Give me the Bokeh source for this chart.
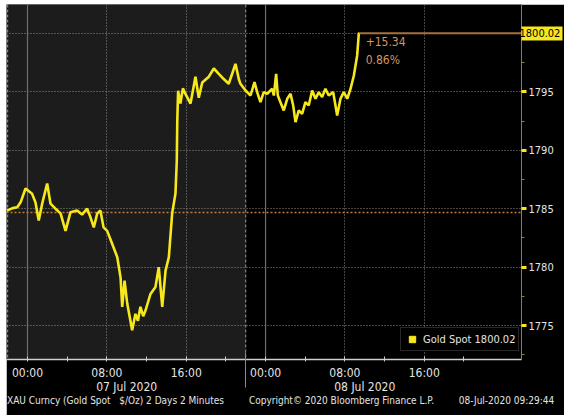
import math
import pandas as pd
from bokeh.plotting import figure
from bokeh.models import (Range1d, FixedTicker, BoxAnnotation, Span, Label, LinearAxis,
                          Legend, LegendItem, ColumnDataSource, CustomJSTickFormatter,
                          PrintfTickFormatter)
from bokeh.embed import file_html
from bokeh.resources import INLINE

# ---------------- data ----------------
times = [
    "2020-07-06 21:57", "2020-07-06 22:30", "2020-07-06 22:58", "2020-07-06 23:20",
    "2020-07-06 23:48",
    "2020-07-07 00:28", "2020-07-07 00:48", "2020-07-07 01:08", "2020-07-07 01:29",
    "2020-07-07 01:59", "2020-07-07 02:19", "2020-07-07 02:49", "2020-07-07 03:20",
    "2020-07-07 03:50", "2020-07-07 04:20", "2020-07-07 05:00", "2020-07-07 05:30",
    "2020-07-07 06:01", "2020-07-07 06:20",
    "2020-07-07 06:41", "2020-07-07 07:02", "2020-07-07 07:21", "2020-07-07 07:40",
    "2020-07-07 08:02", "2020-07-07 08:32", "2020-07-07 09:03", "2020-07-07 09:23",
    "2020-07-07 09:33", "2020-07-07 09:47", "2020-07-07 10:03", "2020-07-07 10:20",
    "2020-07-07 10:33",
    "2020-07-07 10:53", "2020-07-07 11:08", "2020-07-07 11:23", "2020-07-07 11:40",
    "2020-07-07 11:54", "2020-07-07 12:24",
    "2020-07-07 12:54", "2020-07-07 13:14", "2020-07-07 13:35", "2020-07-07 13:55",
    "2020-07-07 14:15", "2020-07-07 14:35", "2020-07-07 14:55", "2020-07-07 15:03",
    "2020-07-07 15:06", "2020-07-07 15:11", "2020-07-07 15:25", "2020-07-07 15:40",
    "2020-07-07 15:56",
    "2020-07-07 16:26", "2020-07-07 16:56", "2020-07-07 17:16", "2020-07-07 17:37",
    "2020-07-07 18:17", "2020-07-07 18:47", "2020-07-07 19:17", "2020-07-07 19:47",
    "2020-07-07 20:17", "2020-07-07 20:38", "2020-07-07 20:58", "2020-07-07 21:18",
    "2020-07-07 21:28", "2020-07-07 21:59", "2020-07-07 22:29", "2020-07-07 22:53",
    "2020-07-07 23:09", "2020-07-07 23:29", "2020-07-07 23:49", "2020-07-08 00:10",
    "2020-07-08 00:40", "2020-07-08 00:50", "2020-07-08 01:04", "2020-07-08 01:14",
    "2020-07-08 01:30", "2020-07-08 01:50", "2020-07-08 02:11", "2020-07-08 02:31",
    "2020-07-08 02:47", "2020-07-08 03:01", "2020-07-08 03:21", "2020-07-08 03:41",
    "2020-07-08 04:01", "2020-07-08 04:21", "2020-07-08 04:42", "2020-07-08 05:02",
    "2020-07-08 05:22", "2020-07-08 05:42", "2020-07-08 06:02", "2020-07-08 06:22",
    "2020-07-08 06:49", "2020-07-08 07:13", "2020-07-08 07:33", "2020-07-08 07:53",
    "2020-07-08 08:14", "2020-07-08 08:34", "2020-07-08 08:54", "2020-07-08 09:14",
    "2020-07-08 09:24", "2020-07-08 09:29",
]
prices = [
    1784.85, 1785.05, 1785.13, 1785.60,
    1786.73,
    1786.27, 1785.56, 1783.99, 1785.44,
    1787.16, 1785.44, 1785.00, 1784.60,
    1783.10, 1784.70, 1784.85, 1784.50,
    1785.00, 1784.30,
    1783.40, 1784.60, 1784.85, 1783.40,
    1783.10, 1782.00, 1780.85, 1779.10,
    1776.60, 1778.85, 1776.90, 1775.60,
    1774.60,
    1776.00, 1775.40, 1776.60, 1775.80,
    1776.30, 1777.70,
    1778.30, 1780.00, 1776.60, 1779.70,
    1780.85, 1784.60, 1786.30, 1789.10,
    1792.55, 1795.10, 1794.00, 1795.30,
    1794.80,
    1794.00, 1796.30, 1794.50, 1795.80,
    1796.30, 1797.00, 1796.55, 1796.10,
    1795.70, 1796.55, 1797.40, 1796.10,
    1795.69, 1795.12, 1794.69, 1795.83,
    1794.98, 1794.12, 1794.98, 1794.84,
    1795.27, 1794.69, 1796.55, 1794.69,
    1794.12, 1793.41, 1794.41, 1794.84,
    1793.84, 1792.41, 1793.41, 1793.12,
    1794.12, 1793.84, 1795.12, 1794.41,
    1794.98, 1794.55, 1795.27, 1794.69,
    1794.98, 1792.98, 1794.41, 1794.98,
    1794.41, 1795.27, 1796.40, 1798.12,
    1800.00, 1800.02,
]
prev_close = 1784.68
y_ticks = [1775, 1780, 1785, 1790, 1795]
y_minor = [1772.5, 1777.5, 1782.5, 1787.5, 1792.5, 1797.5]
y_grid = [1775, 1780, 1785, 1790, 1795, 1800]
day_starts = ["2020-07-07 00:00", "2020-07-08 00:00"]
day_labels = ["07 Jul 2020", "08 Jul 2020"]
day_label_pos = ["2020-07-07 10:00", "2020-07-08 10:00"]
session_start = "2020-07-06 22:00"
session_end = "2020-07-07 22:00"
dotted_x = ["2020-07-07 08:00", "2020-07-07 16:00", "2020-07-08 08:00", "2020-07-08 16:00"]
tick_x = pd.date_range("2020-07-07 00:00", "2020-07-08 20:00", freq="4h").strftime("%Y-%m-%d %H:%M").tolist()
x_start, x_end = "2020-07-06 21:53", "2020-07-09 01:48"
series_name = "Gold Spot"
footer_texts = ["XAU Curncy (Gold Spot \u00a0 $/Oz) 2 Days 2 Minutes",
                "Copyright\u00a9 2020 Bloomberg Finance L.P.",
                "08-Jul-2020 09:29:44"]

# ---------------- layout constants ----------------
W, H = 558, 411
FRAME_W, FRAME_H = 515, 355
footer_px = [115, 341, 506]      # horizontal centres (page px) of the footer parts
FONT = "DejaVu Sans Condensed"
YELLOW = "#f7e81c"
TXT = "#e4e4e4"
ORANGE = "#d8955a"


def ms(s):
    return pd.Timestamp(s).value / 1e6


x0, x1 = ms(x_start), ms(x_end)


def px_to_x(px):
    return x0 + (px - 6) / FRAME_W * (x1 - x0)


xs = [ms(t) for t in times]
src = ColumnDataSource(dict(x=xs, y=prices))
last = prices[-1]
change = last - prev_close
pct = change / prev_close * 100

p = figure(width=W, height=H, output_backend="svg", toolbar_location=None,
           x_axis_type="datetime", y_axis_location="right",
           x_range=Range1d(x0, x1), y_range=Range1d(1772.09, 1802.48),
           min_border_left=0, min_border_top=0, min_border_right=W - FRAME_W,
           min_border_bottom=H - FRAME_H, margin=(4, 0, 0, 6))
p.background_fill_color = "black"
p.border_fill_color = "black"
p.outline_line_color = None

# session shading
p.add_layout(BoxAnnotation(left=ms(session_start), right=ms(session_end),
                           fill_color="#1c1c1c", fill_alpha=1, line_color=None,
                           level="image"))

# grids
p.ygrid.ticker = FixedTicker(ticks=y_grid)
p.ygrid.grid_line_color = "#8c8c8c"
p.ygrid.grid_line_dash = "1 2"
p.xgrid.ticker = FixedTicker(ticks=[ms(t) for t in dotted_x])
p.xgrid.grid_line_color = "#8c8c8c"
p.xgrid.grid_line_dash = "1 2"
for d in day_starts:
    p.add_layout(Span(location=ms(d), dimension="height", line_color="#6e6e6e",
                      line_width=1.2, level="underlay"))
for b in [session_start, session_end]:
    p.add_layout(Span(location=ms(b), dimension="height", line_color="#9a9a9a",
                      line_width=1, line_dash="3 2", level="underlay"))

# previous close line
p.add_layout(Span(location=prev_close, dimension="width", line_color="#c8783a",
                  line_width=1.5, line_dash="2 2", level="underlay"))

# price line
p.line("x", "y", source=src, line_color=YELLOW, line_width=2.6)

# last price line
p.segment(x0=[xs[-1]], y0=[last], x1=[x1], y1=[last],
          line_color="#a8703c", line_width=2)

# change labels
p.add_layout(Label(x=xs[-1], y=last, text=f"+{change:.2f}", x_offset=6, y_offset=-4,
                   text_baseline="top", text_color=ORANGE, text_font=FONT,
                   text_font_size="12px"))
p.add_layout(Label(x=xs[-1], y=last, text=f"{pct:.2f}%", x_offset=6, y_offset=-20,
                   text_baseline="top", text_color=ORANGE, text_font=FONT,
                   text_font_size="12px"))

# right value axis
ya = p.yaxis[0]
ya.ticker = FixedTicker(ticks=y_ticks, minor_ticks=y_minor)
ya.axis_line_color = "#8c8240"
ya.major_tick_line_color = YELLOW
ya.major_tick_line_width = 3
ya.major_tick_out = 5
ya.major_tick_in = 0
ya.minor_tick_line_color = "#8c8240"
ya.minor_tick_out = 3
ya.minor_tick_in = 0
ya.major_label_text_color = TXT
ya.major_label_text_font = FONT
ya.major_label_text_font_size = "11px"
ya.major_label_standoff = 2

# last-price tag (outer right axis: thick yellow tick drawn back toward the frame)
tag = LinearAxis(ticker=FixedTicker(ticks=[last], minor_ticks=[]),
                 formatter=PrintfTickFormatter(format="%.2f"))
tag.axis_line_color = None
tag.major_tick_line_color = YELLOW
tag.major_tick_line_width = 14
tag.major_tick_in = 35
tag.major_tick_out = 6
tag.minor_tick_line_color = None
tag.major_label_text_color = "black"
tag.major_label_text_font = FONT
tag.major_label_text_font_size = "11px"
tag.major_label_standoff = -43
p.add_layout(tag, "right")

# time axis
xa = p.xaxis[0]
xa.ticker = FixedTicker(ticks=[ms(t) for t in tick_x])
xa.formatter = CustomJSTickFormatter(code="""
const d = new Date(tick);
const h = d.getUTCHours();
if (h % 8 != 0) { return ''; }
return String(h).padStart(2, '0') + ':00';
""")
xa.axis_line_color = "#cfcfcf"
xa.axis_line_width = 1.5
xa.major_tick_line_color = "#cfcfcf"
xa.major_tick_in = 3
xa.major_tick_out = 2
xa.minor_tick_line_color = None
xa.major_label_text_color = TXT
xa.major_label_text_font = FONT
xa.major_label_text_font_size = "12px"
xa.major_label_standoff = 4

# date axis (its minor tick continues the session separator below the frame)
da = LinearAxis(ticker=FixedTicker(ticks=[ms(t) for t in day_label_pos],
                                   minor_ticks=[ms(session_end)]),
                major_label_overrides={ms(t): lab for t, lab in zip(day_label_pos, day_labels)})
da.axis_line_color = None
da.major_tick_line_color = None
da.minor_tick_line_color = "#8a8a8a"
da.minor_tick_in = 30
da.minor_tick_out = 5
da.major_label_text_color = TXT
da.major_label_text_font = FONT
da.major_label_text_font_size = "12px"
da.major_label_standoff = -9
p.add_layout(da, "below")

# footer axis
f_ticks = [px_to_x(v) for v in footer_px]
fa = LinearAxis(ticker=FixedTicker(ticks=f_ticks, minor_ticks=[]),
                major_label_overrides={t: s for t, s in zip(f_ticks, footer_texts)})
fa.axis_line_color = None
fa.major_tick_line_color = None
fa.minor_tick_line_color = None
fa.major_label_text_color = TXT
fa.major_label_text_font = FONT
fa.major_label_text_font_size = "10px"
fa.major_label_standoff = -8
p.add_layout(fa, "below")

# legend
r_leg = p.scatter(x=[xs[-1]], y=[math.nan], marker="square", size=13,
                  fill_color=YELLOW, line_color=YELLOW)
leg = Legend(items=[LegendItem(label=f"{series_name} {last:.2f}", renderers=[r_leg])],
             location=(FRAME_W - 121, 8), background_fill_color="black",
             background_fill_alpha=1, border_line_color="#505050",
             label_text_color=TXT, label_text_font=FONT, label_text_font_size="11px",
             glyph_width=16, glyph_height=16, padding=3, margin=0, spacing=0,
             label_standoff=3, label_height=14)
p.add_layout(leg)

open("out.html", "w").write(file_html(p, INLINE))
